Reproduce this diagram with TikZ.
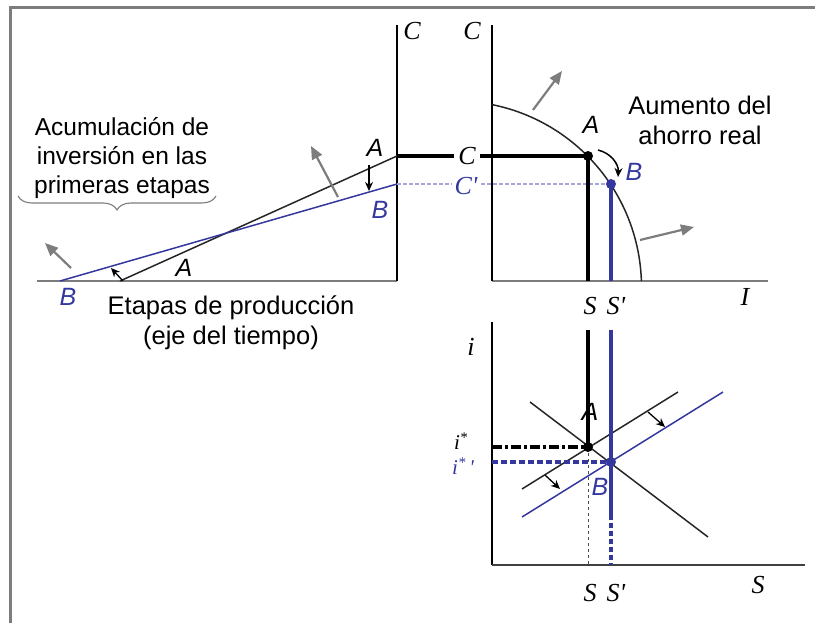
\documentclass[tikz,border=0pt]{standalone}
\usepackage{fontspec}
\setmainfont{Liberation Sans}
\newfontfamily\ejefont{Liberation Serif}
\usetikzlibrary{arrows.meta,decorations.pathreplacing}

\definecolor{azul}{RGB}{52,56,158}
\definecolor{azulclaro}{RGB}{165,165,215}
\definecolor{gris}{RGB}{125,125,125}

\begin{document}
\begin{tikzpicture}[x=1pt,y=-1pt,
    eje/.style={font=\ejefont\itshape\fontsize{26}{26}\selectfont,inner sep=0pt},
    punto/.style={font=\itshape\fontsize{25}{25}\selectfont,inner sep=0pt},
    texto/.style={font=\fontsize{24.5}{29}\selectfont,align=center,inner sep=0pt},
    fina/.style={line width=1.5pt},
    gruesa/.style={line width=4pt},
    empuje/.style={gris,line width=2.2pt,-{Triangle[width=11pt,length=13pt]}},
    flecha/.style={black,line width=1.3pt,-{Stealth[length=9pt,width=8pt]}}]
  \useasboundingbox (0,0) rectangle (815,623);
  % marco
  \draw[gris,line width=3pt] (10,623) -- (10,8) -- (815,8);

  % puntos de los ejes
  \coordinate (o1) at (397,281);
  \coordinate (c1) at (397,25);
  \coordinate (t0) at (37,281);
  \coordinate (o2) at (492,281);
  \coordinate (c2) at (492,25);
  \coordinate (i2) at (768,281);
  \coordinate (o3) at (492,565);
  \coordinate (i3) at (492,322);
  \coordinate (s3) at (805,565);

  % ejes
  \draw[fina,gris] (t0) -- (o1);
  \draw[fina] (o1) -- (c1);
  \draw[fina,gris] (o2) -- (i2);
  \draw[fina] (o2) -- (c2);
  \draw[fina] (i3) -- (o3);
  \draw[fina,black!75] (o3) -- (s3);

  \node[eje] (lc1) at (412,31) {C};
  \node[eje] (lc2) at (472,31) {C};
  \node[eje] (li2) at (745,297) {I};
  \node[eje] (li3) at (471,347) {i};
  \node[eje] (ls3) at (758,585) {S};

  % etapas de produccion
  \coordinate (a0) at (120,281);
  \coordinate (a1) at (397,156);
  \coordinate (b0) at (60,281);
  \coordinate (b1) at (397,184);
  \draw[fina,black!85] (a0) -- (a1);
  \draw[fina,azul] (b0) -- (b1);
  \draw[flecha] (369,165) -- (369,191);
  \draw[flecha] (123,281) -- (111,268);
  \draw[empuje] (338,197) -- (311,146);
  \draw[empuje] (71,268) -- (45,243);

  \node[punto] (la1) at (375,148) {A};
  \node[punto,azul] (lb1) at (380,210) {B};
  \node[punto] (la0) at (184,268) {A};
  \node[punto,azul] (lb0) at (68,297) {B};

  \node[texto] (acum) at (122,158) {Acumulación de\\inversión en las\\primeras etapas};
  \draw[gris,line width=1.1pt,decorate,decoration={brace,amplitude=14pt}]
    (216,196) -- (18,196);
  \node[texto,font=\fontsize{25.5}{30}\selectfont] (etapas) at (231,323)
    {Etapas de producción\\(eje del tiempo)};

  % frontera de posibilidades
  \coordinate (A) at (588,156);
  \coordinate (B) at (611,184);
  \coordinate (sA) at (588,281);
  \coordinate (sB) at (611,281);
  \draw[fina,black!85,domain=1.8:78.8,samples=60]
    plot ({455.5+186*cos(\x)},{287-186*sin(\x)});
  \draw[azulclaro,line width=1.8pt,dash pattern=on 4pt off 2pt] (b1) -- (B);
  \draw[gruesa] (a1) -- (A) -- (sA);
  \draw[gruesa,azul] (B) -- (sB);
  \node[eje,fill=white,inner xsep=4pt] (lc) at (467,156) {C};
  \node[eje,azul,fill=white,inner xsep=3pt] (lcp) at (466,186) {C'};
  \fill (A) circle (5pt);
  \fill[azul] (B) circle (5pt);
  \draw[flecha,line width=1.5pt] (598,150) to[bend left=40] (618,177);
  \draw[empuje] (533,110) -- (562,71);
  \draw[empuje] (640,240) -- (694,227);

  \node[punto] (la) at (591,125) {A};
  \node[punto,azul] (lb) at (634,172) {B};
  \node[texto,font=\fontsize{25.5}{30}\selectfont] (aumento) at (700,120)
    {Aumento del\\ahorro real};
  \node[eje] (lsa) at (590,306) {S};
  \node[eje] (lsb) at (616,306) {S'};

  % mercado de fondos prestables
  \coordinate (A2) at (588,447);
  \coordinate (B2) at (611,462);
  \coordinate (topA) at (588,330);
  \coordinate (topB) at (611,330);
  \coordinate (corte) at (611,515);
  \coordinate (sA3) at (588,565);
  \coordinate (sB3) at (611,565);
  \coordinate (iA) at (492,447);
  \coordinate (iB) at (492,462);
  \coordinate (d0) at (530,402);
  \coordinate (d1) at (708,537);
  \coordinate (sa0) at (522,489);
  \coordinate (sa1) at (678,392);
  \coordinate (sb0) at (522,517);
  \coordinate (sb1) at (723,392);

  \draw[fina,black!85] (d0) -- (d1);
  \draw[fina,black!85] (sa0) -- (sa1);
  \draw[fina,azul] (sb0) -- (sb1);
  \draw[line width=0.8pt,dashed,black!70] (A2) -- (sA3);
  \draw[gruesa] (topA) -- (A2);
  \draw[gruesa,azul] (topB) -- (corte);
  \draw[gruesa,azul,dash pattern=on 5pt off 3pt] (corte) -- (sB3);
  \draw[line width=3.4pt,dash pattern=on 10pt off 3pt on 3pt off 3pt] (iA) -- (A2);
  \draw[line width=3.4pt,azul,dash pattern=on 6pt off 3pt] (iB) -- (B2);
  \fill (A2) circle (5pt);
  \fill[azul] (B2) circle (5pt);
  \draw[flecha] (545,475) -- (560,489);
  \draw[flecha] (648,412) -- (665,427);

  \node[punto] (la2) at (590,412) {A};
  \node[punto,azul] (lb2) at (600,487) {B};
  \node[eje,font=\ejefont\itshape\fontsize{21}{21}\selectfont] (listar) at (461,441) {i\textsuperscript{*}};
  \node[eje,azul,font=\ejefont\itshape\fontsize{21}{21}\selectfont] (listarb) at (463,466) {i\textsuperscript{*}\,'};
  \node[eje] (lsa3) at (590,593) {S};
  \node[eje] (lsb3) at (616,593) {S'};
\end{tikzpicture}
\end{document}
